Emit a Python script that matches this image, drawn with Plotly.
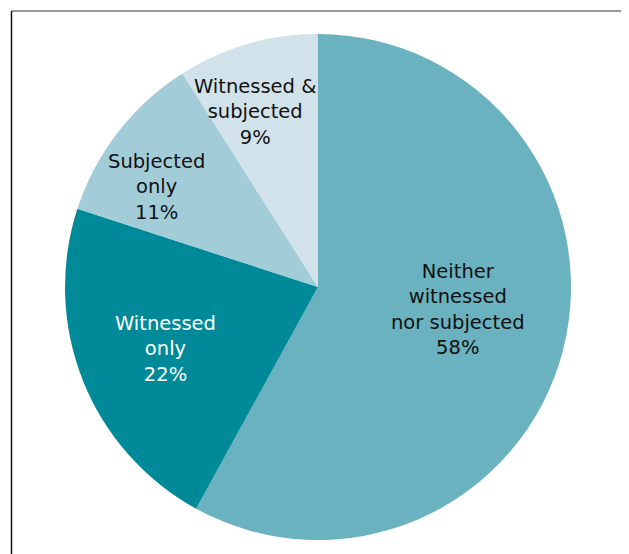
import math
import plotly.graph_objects as go

categories = ["Neither<br>witnessed<br>nor subjected", "Witnessed<br>only", "Subjected<br>only", "Witnessed &<br>subjected"]
values = [58, 22, 11, 9]
colors = ["#6AB2BF", "#008A99", "#A2CDD8", "#D2E2EA"]
text_colors = ["#111111", "#FFFFFF", "#111111", "#111111"]

# label placement style (radius fraction, angular shift in degrees)
label_r = [0.56, 0.65, 0.75, 0.735]
label_shift = [-5.1, -0.4, -6.0, -3.6]

W, H = 629, 554
cx, cy, r = 310, 279, 253  # pixel centre/radius inside the figure

fig = go.Figure(go.Pie(
    labels=categories,
    values=values,
    sort=False,
    direction="clockwise",
    rotation=0,
    marker=dict(colors=colors, line=dict(width=0)),
    textinfo="none",
    hoverinfo="label+percent",
    showlegend=False,
    domain=dict(x=[(cx - r) / W, (cx + r) / W], y=[(H - cy - r) / H, (H - cy + r) / H]),
))

annotations = []
total = sum(values)
cum = 0
for lab, v, tc, rf, sh in zip(categories, values, text_colors, label_r, label_shift):
    mid = (cum + v / 2) / total * 360 + sh
    cum += v
    th = math.radians(mid)
    px = cx + rf * r * math.sin(th)
    py = cy - rf * r * math.cos(th)
    annotations.append(dict(
        x=px / W, y=1 - py / H, xref="paper", yref="paper",
        text=f"{lab}<br>{v}%", showarrow=False,
        xanchor="center", yanchor="middle", align="center",
        font=dict(family="DejaVu Sans, sans-serif", size=19.5, color=tc),
    ))

fig.update_layout(
    width=W, height=H,
    margin=dict(l=0, r=0, t=0, b=0),
    paper_bgcolor="white",
    plot_bgcolor="white",
    annotations=annotations,
    shapes=[
        dict(type="line", xref="paper", yref="paper", x0=3.5 / W, x1=615 / W, y0=(H - 3) / H, y1=(H - 3) / H,
             line=dict(color="#777777", width=1.5)),
        dict(type="line", xref="paper", yref="paper", x0=3.5 / W, x1=3.5 / W, y0=(H - 3) / H, y1=-0.01,
             line=dict(color="#111111", width=1.5)),
        dict(type="line", xref="paper", yref="paper", x0=615 / W, x1=615 / W, y0=(H - 3) / H, y1=-0.01,
             line=dict(color="#666666", width=1.5)),
    ],
)

fig.write_html("out.html")
